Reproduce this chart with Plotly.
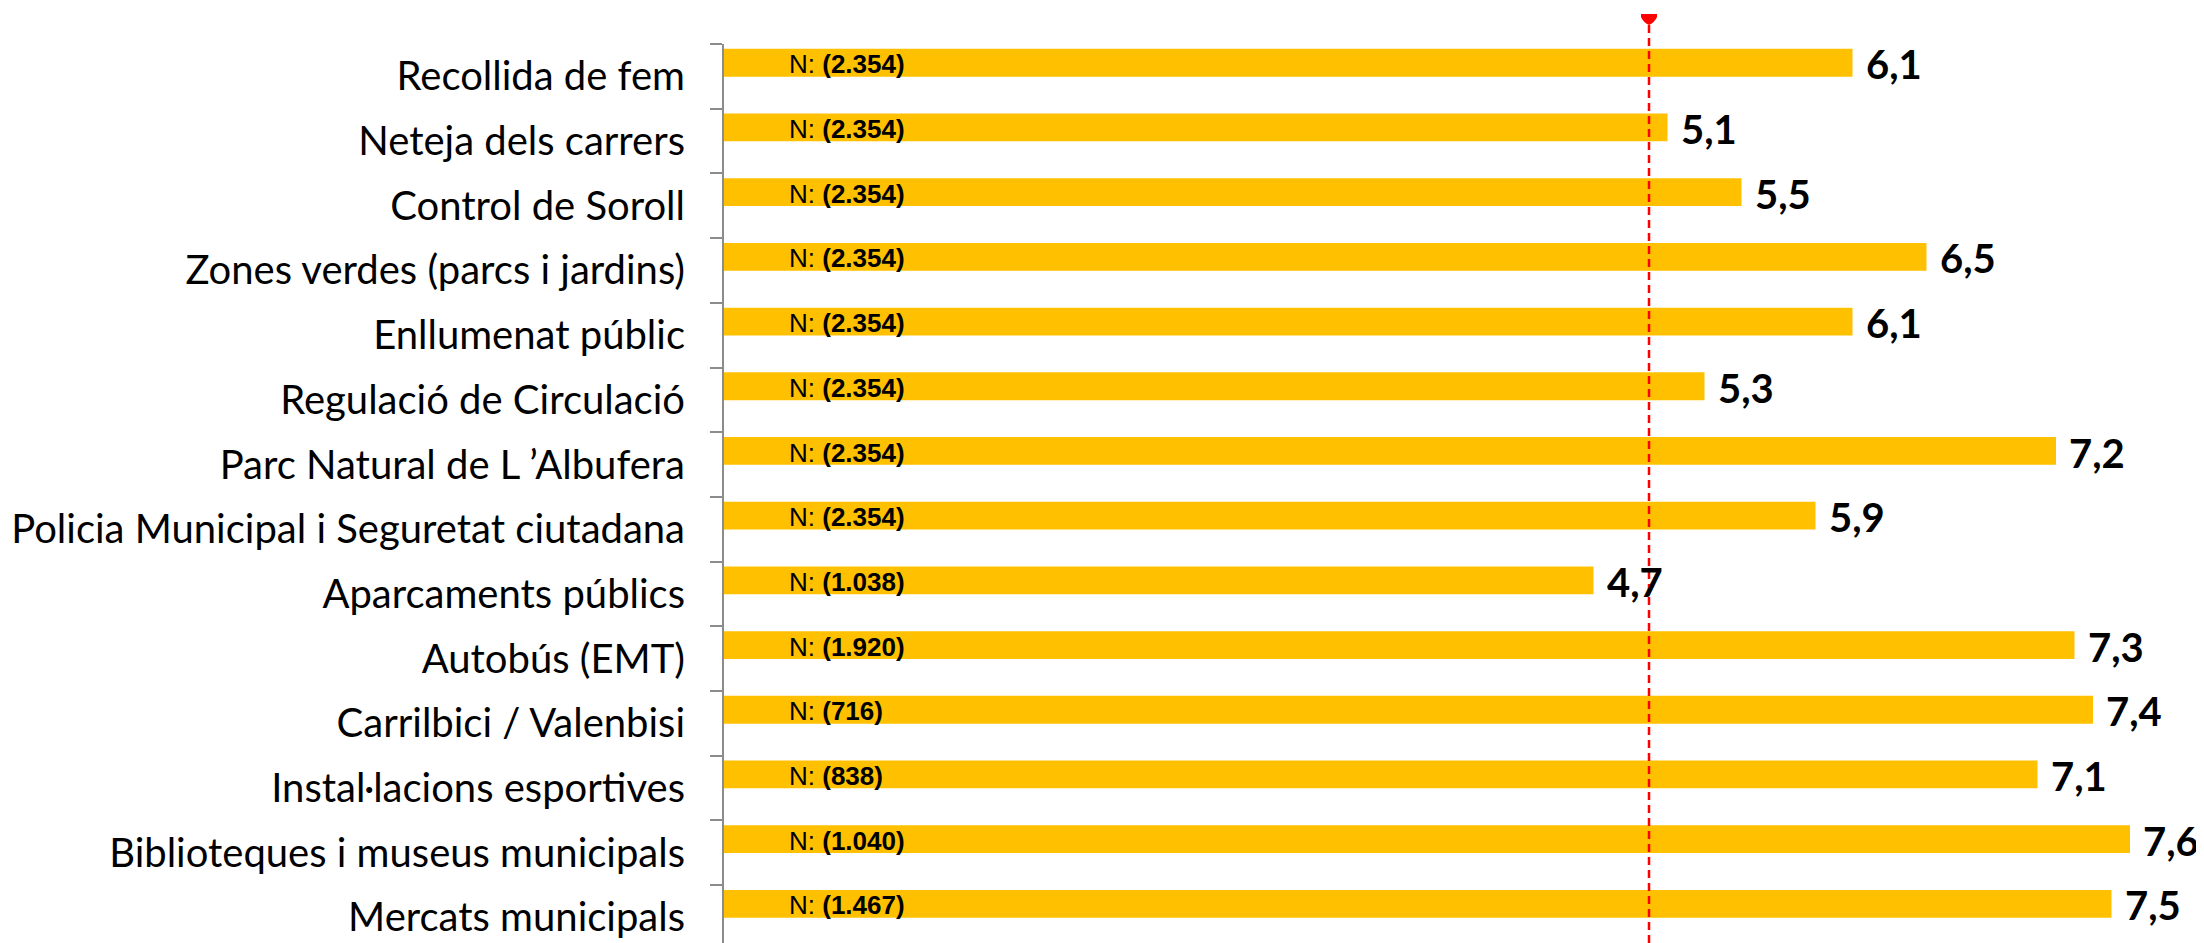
import plotly.graph_objects as go

categories = [
    "Recollida de fem",
    "Neteja dels carrers",
    "Control de Soroll",
    "Zones verdes (parcs i jardins)",
    "Enllumenat públic",
    "Regulació de Circulació",
    "Parc Natural de L \u2019Albufera",
    "Policia Municipal i Seguretat ciutadana",
    "Aparcaments públics",
    "Autobús (EMT)",
    "Carrilbici / Valenbisi",
    "Instal·lacions esportives",
    "Biblioteques i museus municipals",
    "Mercats municipals",
]
scores = [6.1, 5.1, 5.5, 6.5, 6.1, 5.3, 7.2, 5.9, 4.7, 7.3, 7.4, 7.1, 7.6, 7.5]
n_counts = [2354, 2354, 2354, 2354, 2354, 2354, 2354, 2354, 1038, 1920, 716, 838, 1040, 1467]
pass_mark = 5
x_max = 8.0
n_label_x = 0.35


def fmt_n(n):
    return f"{n:,}".replace(",", ".")


def fmt_score(v):
    return f"{v:.1f}".replace(".", ",")


fig = go.Figure(
    go.Bar(
        y=categories,
        x=scores,
        orientation="h",
        marker=dict(color="#FFC000", line=dict(width=0)),
        width=0.43,
        offset=-0.425,
        hoverinfo="x+y",
    )
)

# value labels right of each bar
for cat, v in zip(categories, scores):
    fig.add_annotation(
        x=v, y=cat, xref="x", yref="y",
        text=fmt_score(v),
        showarrow=False, xanchor="left", yanchor="middle",
        xshift=11, yshift=12,
        font=dict(family="Lato", size=40, color="black", weight="bold"),
    )

# sample size labels inside the bars
for cat, n in zip(categories, n_counts):
    fig.add_annotation(
        x=n_label_x, y=cat, xref="x", yref="y",
        text=f"N: <b>({fmt_n(n)})</b>",
        showarrow=False, xanchor="left", yanchor="middle",
        xshift=-2, yshift=12,
        font=dict(family="Liberation Sans, Arial", size=26, color="black"),
    )

# pass mark line and marker
fig.add_shape(
    type="line", xref="x", yref="paper",
    x0=pass_mark, x1=pass_mark, y0=0, y1=1.0245,
    line=dict(color="#FF0000", width=2.5, dash="8px,5px"),
)
fig.add_shape(
    type="path", xref="x", yref="paper",
    xsizemode="pixel", ysizemode="pixel",
    xanchor=pass_mark, yanchor=1,
    path="M-8,30 L8,30 L8,27 Q6,22 0,19 Q-6,22 -8,27 Z",
    fillcolor="#FF0000", line=dict(width=0),
)

# page body adds an 8px offset, so the figure is 8px smaller than the window
fig.update_layout(
    width=2196,
    height=935,
    margin=dict(l=716, r=0, t=36, b=0),
    paper_bgcolor="white",
    plot_bgcolor="white",
    showlegend=False,
    xaxis=dict(
        range=[0, x_max], visible=False, showgrid=False, zeroline=False,
    ),
    yaxis=dict(
        type="category",
        categoryorder="array",
        categoryarray=categories,
        range=[13.395, -0.5],
        showline=True, linecolor="#8C8C8C", linewidth=2,
        ticks="outside", tickson="boundaries", ticklen=12,
        tickcolor="#8C8C8C", tickwidth=2,
        ticklabelstandoff=29,
        showgrid=False, zeroline=False,
        tickfont=dict(family="Lato", size=40, color="black"),
        automargin=False,
    ),
)

fig.write_html("out.html")
